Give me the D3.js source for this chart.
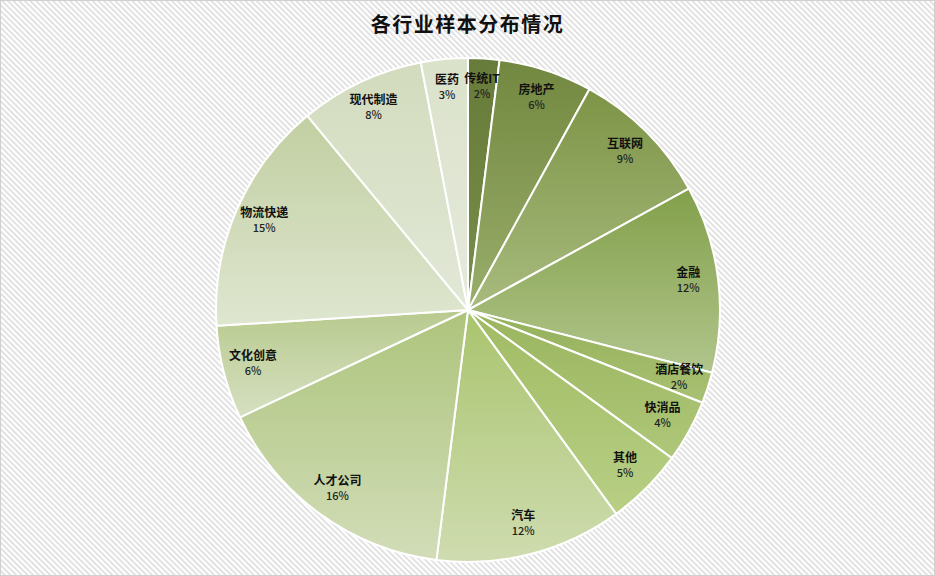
<!DOCTYPE html>
<html>
<head>
<meta charset="utf-8">
<script src="https://cdn.jsdelivr.net/npm/d3@7"></script>
<style>
  body { margin: 0; background: #fff; }
  .title { font-family: "Noto Sans CJK SC", sans-serif; font-weight: bold; font-size: 20px; letter-spacing: 1.5px; }
  .name { font-family: "Noto Sans CJK SC", sans-serif; font-weight: bold; font-size: 12px; }
  .pct { font-family: "Noto Sans CJK SC", sans-serif; font-weight: 500; font-size: 11px; }
</style>
</head>
<body>
<svg id="chart"></svg>
<script>
// industries, clockwise from 12 o'clock
let industries = ['传统IT', '房地产', '互联网', '金融', '酒店餐饮', '快消品', '其他', '汽车', '人才公司', '文化创意', '物流快递', '现代制造', '医药'];
let shares = [2, 6, 9, 12, 2, 4, 5, 12, 16, 6, 15, 8, 3];
// top colour of each slice's gradient, then bottom colour
let topColors = ['#677b3a', '#72873f', '#7d9446', '#82a04a', '#94b05a', '#9ab55f', '#a0bb63', '#a9c46d', '#adc47c', '#b8ca8e', '#c1cfa1', '#d2dbbd', '#dbe2ca'];
let bottomColors = ['#7a8e4a', '#9aae6c', '#a8bb7e', '#b1c58c', '#a9c173', '#aec779', '#b8cf85', '#cfdcb0', '#d2ddb8', '#d6e0c1', '#dfe6d0', '#e2e8d7', '#e5eadc'];

let width = 935, height = 576;
let cx = 468, cy = 310, radius = 252;

let svg = d3.select('#chart')
    .attr('width', width)
    .attr('height', height);

let defs = svg.append('defs');

let hatch = defs.append('pattern')
    .attr('id', 'hatch')
    .attr('patternUnits', 'userSpaceOnUse')
    .attr('width', 4)
    .attr('height', 4)
    .attr('patternTransform', 'rotate(-45)');
hatch.append('rect').attr('width', 4).attr('height', 4).attr('fill', '#ffffff');
hatch.append('rect').attr('width', 1.6).attr('height', 4).attr('fill', '#dcdcdc');

svg.append('rect')
    .attr('x', 0.5).attr('y', 0.5)
    .attr('width', width - 1).attr('height', height - 1)
    .attr('fill', 'url(#hatch)')
    .attr('stroke', '#d0d0d0');

svg.append('text')
    .attr('class', 'title')
    .attr('x', width / 2)
    .attr('y', 32)
    .attr('text-anchor', 'middle')
    .attr('fill', '#111')
    .text('各行业样本分布情况');

let rows = industries.map((name, i) => ({ name: name, value: shares[i], i: i }));

let pie = d3.pie().sort(null).value(d => d.value);
let arc = d3.arc().innerRadius(0).outerRadius(radius);
let labelArc = d3.arc().innerRadius(222).outerRadius(222);

let arcs = pie(rows);

// vertical gradient per slice, spanning the slice's own box
arcs.forEach(a => {
  let pts = [[0, 0]];
  for (let t = 0; t <= 20; t++) {
    let ang = a.startAngle + (a.endAngle - a.startAngle) * t / 20;
    pts.push([Math.sin(ang) * radius, -Math.cos(ang) * radius]);
  }
  let ys = pts.map(p => p[1]);
  let g = defs.append('linearGradient')
      .attr('id', 'grad' + a.data.i)
      .attr('gradientUnits', 'userSpaceOnUse')
      .attr('x1', 0).attr('x2', 0)
      .attr('y1', d3.min(ys)).attr('y2', d3.max(ys));
  g.append('stop').attr('offset', '0%').attr('stop-color', topColors[a.data.i]);
  g.append('stop').attr('offset', '100%').attr('stop-color', bottomColors[a.data.i]);
});

let pieG = svg.append('g')
    .attr('transform', `translate(${cx},${cy})`);

pieG.selectAll('path')
    .data(arcs)
    .enter()
    .append('path')
    .attr('d', arc)
    .attr('fill', d => 'url(#grad' + d.data.i + ')')
    .attr('stroke', '#ffffff')
    .attr('stroke-width', 2)
    .attr('stroke-linejoin', 'round');

let labels = pieG.selectAll('g.label')
    .data(arcs)
    .enter()
    .append('g')
    .attr('class', 'label')
    .attr('transform', d => {
      let p = labelArc.centroid(d);
      return `translate(${p[0]},${p[1]})`;
    });

labels.append('text')
    .attr('class', 'name')
    .attr('text-anchor', 'middle')
    .attr('y', -5)
    .attr('fill', '#111')
    .text(d => d.data.name);

labels.append('text')
    .attr('class', 'pct')
    .attr('text-anchor', 'middle')
    .attr('y', 10)
    .attr('fill', '#222')
    .text(d => d.data.value + '%');
</script>
</body>
</html>
